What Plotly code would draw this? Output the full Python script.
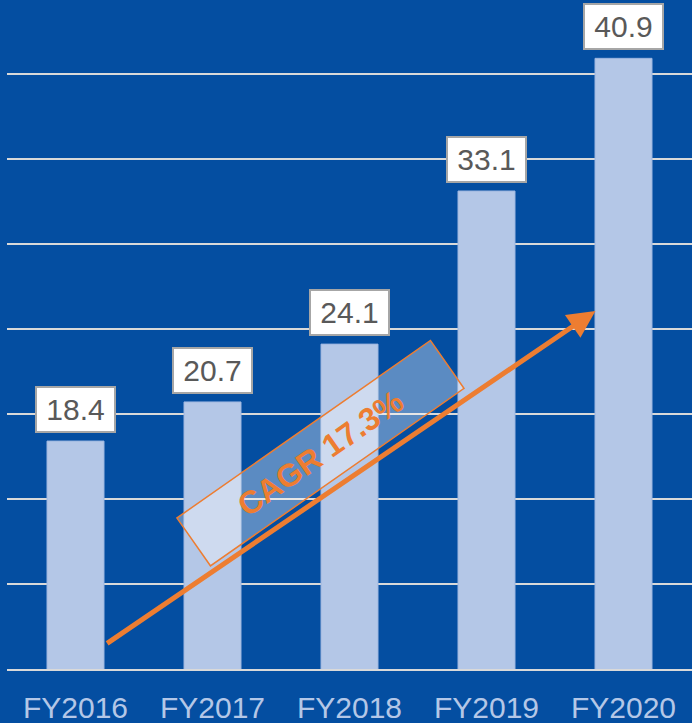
import plotly.graph_objects as go

categories = ["FY2016", "FY2017", "FY2018", "FY2019", "FY2020"]
values = [18.4, 20.7, 24.1, 33.1, 40.9]
cagr_label = "CAGR 17.3%"

BG = "#044ea1"
BAR = "#b4c7e7"
ORANGE = "#ed7d31"
FONT = "Arial, Liberation Sans, sans-serif"

fig = go.Figure()
fig.add_trace(go.Bar(
    x=categories, y=values, width=0.416,
    marker=dict(color=BAR, line=dict(width=1, color="#9db6e0")),
    hoverinfo="skip",
))

# value labels in white boxes
for c, v in zip(categories, values):
    fig.add_annotation(
        x=c, y=v, xref="x", yref="y", text=f"{v:.1f}", showarrow=False,
        yanchor="bottom", yshift=8,
        font=dict(family=FONT, size=30, color="#595959"),
        bgcolor="white", bordercolor="#a6a6a6", borderwidth=2,
        width=71, height=37, borderpad=3,
    )

# CAGR arrow
fig.add_annotation(
    x=3.795, y=26.05, ax=0.22, ay=6.45,
    xref="x", yref="y", axref="x", ayref="y",
    text="", showarrow=True, arrowhead=2, arrowsize=1.1, arrowwidth=5,
    arrowcolor=ORANGE, standoff=0,
)

# rotated CAGR box
fig.add_annotation(
    x=1.79, y=17.69, xref="x", yref="y", text=f"<b>{cagr_label}</b>",
    showarrow=False, textangle=-35,
    font=dict(family=FONT, size=32, color=ORANGE),
    bgcolor="rgba(255,255,255,0.35)", bordercolor=ORANGE, borderwidth=1.5,
    width=308, height=57, borderpad=0,
)

fig.update_layout(
    width=692, height=723,
    margin=dict(l=7, r=0, t=0, b=54),
    paper_bgcolor=BG, plot_bgcolor=BG,
    showlegend=False,
    bargap=0.58,
)
fig.update_xaxes(
    range=[-0.5, 4.5], showgrid=False, zeroline=False,
    showline=True, linecolor="#d9d9d9", linewidth=2,
    tickfont=dict(family=FONT, size=30, color=BAR),
    ticks="", ticklabelstandoff=11,
)
fig.update_yaxes(
    range=[5, 44.33], dtick=5, showgrid=True,
    gridcolor="#d9d9d9", gridwidth=2,
    zeroline=False, showticklabels=False, showline=False,
)

fig.write_html(
    "out.html",
    config={"displayModeBar": False},
    post_script=f"document.body.style.margin='0';document.body.style.background='{BG}';",
)
